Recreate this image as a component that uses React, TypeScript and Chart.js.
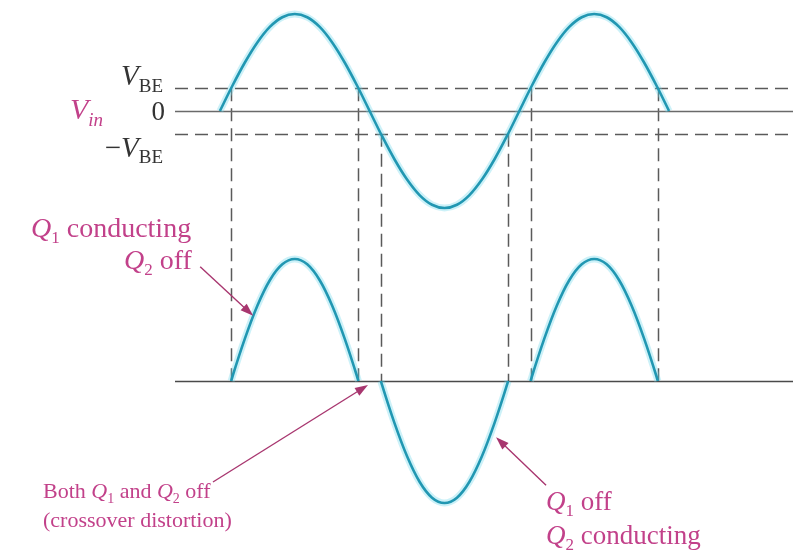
import React, { useEffect, useRef } from "react";
import { Chart, registerables } from "chart.js";

Chart.register(...registerables);

// ---------- data (phase in degrees, voltages in volts) ----------
const vbe = 0.7;

const inputPhase = [
  0, 15, 30, 45, 60, 75, 90, 105, 120, 135, 150, 165, 180, 195, 210, 225, 240, 255, 270,
  285, 300, 315, 330, 345, 360, 375, 390, 405, 420, 435, 450, 465, 480, 495, 510, 525, 540,
];
const inputVolts = [
  0, 0.78, 1.5, 2.12, 2.6, 2.9, 3.0, 2.9, 2.6, 2.12, 1.5, 0.78, 0, -0.78, -1.5, -2.12, -2.6, -2.9, -3.0,
  -2.9, -2.6, -2.12, -1.5, -0.78, 0, 0.78, 1.5, 2.12, 2.6, 2.9, 3.0, 2.9, 2.6, 2.12, 1.5, 0.78, 0,
];

const q1FirstPhase = [13.5, 15, 30, 45, 60, 75, 90, 105, 120, 135, 150, 165, 166.5];
const q1FirstVolts = [0, 0.08, 0.8, 1.42, 1.9, 2.2, 2.3, 2.2, 1.9, 1.42, 0.8, 0.08, 0];

const q2Phase = [193.5, 195, 210, 225, 240, 255, 270, 285, 300, 315, 330, 345, 346.5];
const q2Volts = [0, -0.08, -0.8, -1.42, -1.9, -2.2, -2.3, -2.2, -1.9, -1.42, -0.8, -0.08, 0];

const q1SecondPhase = [373.5, 375, 390, 405, 420, 435, 450, 465, 480, 495, 510, 525, 526.5];
const q1SecondVolts = [0, 0.08, 0.8, 1.42, 1.9, 2.2, 2.3, 2.2, 1.9, 1.42, 0.8, 0.08, 0];

// phases where the input crosses ±VBE, and the level where each guide starts
const crossPhase = [13.5, 166.5, 193.5, 346.5, 373.5, 526.5];
const crossLevel = [0.7, 0.7, -0.7, -0.7, 0.7, 0.7];

// ---------- styling ----------
const FONT = '"Liberation Serif", "Times New Roman", serif';
const MAGENTA = "#c2418a";
const ARROW = "#a8366f";
const WAVE = "#2197b2";
const GLOW = "rgba(110, 215, 235, 0.35)";

type Seg = { t: string; it?: boolean; sub?: boolean };

function drawRich(
  ctx: CanvasRenderingContext2D,
  segs: Seg[],
  x: number,
  y: number,
  size: number,
  color: string,
  align: "left" | "right" = "left",
  subRatio = 0.62
) {
  const subSize = Math.round(size * subRatio);
  const fontFor = (s: Seg) => `${s.it ? "italic " : ""}${s.sub ? subSize : size}px ${FONT}`;
  let w = 0;
  for (const s of segs) {
    ctx.font = fontFor(s);
    w += ctx.measureText(s.t).width;
  }
  let cx = align === "right" ? x - w : x;
  ctx.fillStyle = color;
  ctx.textBaseline = "alphabetic";
  ctx.textAlign = "left";
  for (const s of segs) {
    ctx.font = fontFor(s);
    ctx.fillText(s.t, cx, s.sub ? y + size * 0.22 : y);
    cx += ctx.measureText(s.t).width;
  }
}

function arrow(ctx: CanvasRenderingContext2D, x0: number, y0: number, x1: number, y1: number) {
  const a = Math.atan2(y1 - y0, x1 - x0);
  const len = 13;
  const hw = 4.5;
  ctx.strokeStyle = ARROW;
  ctx.fillStyle = ARROW;
  ctx.lineWidth = 1.4;
  ctx.setLineDash([]);
  ctx.beginPath();
  ctx.moveTo(x0, y0);
  ctx.lineTo(x1 - Math.cos(a) * len * 0.8, y1 - Math.sin(a) * len * 0.8);
  ctx.stroke();
  ctx.beginPath();
  ctx.moveTo(x1, y1);
  ctx.lineTo(x1 - Math.cos(a) * len - Math.sin(a) * hw, y1 - Math.sin(a) * len + Math.cos(a) * hw);
  ctx.lineTo(x1 - Math.cos(a) * len + Math.sin(a) * hw, y1 - Math.sin(a) * len - Math.cos(a) * hw);
  ctx.closePath();
  ctx.fill();
}

const overlay = {
  id: "overlay",
  beforeDatasetsDraw(chart: any) {
    const { ctx, chartArea, scales } = chart;
    const x = scales.x;
    const yT = scales.yTop;
    const yB = scales.yBot;
    ctx.save();
    // dashed ±VBE lines
    ctx.strokeStyle = "#5a5a5a";
    ctx.lineWidth = 1.5;
    ctx.setLineDash([13, 7]);
    for (const lv of [vbe, -vbe]) {
      const py = Math.round(yT.getPixelForValue(lv)) + 0.5;
      ctx.beginPath();
      ctx.moveTo(chartArea.left, py);
      ctx.lineTo(chartArea.right, py);
      ctx.stroke();
    }
    // vertical guides
    crossPhase.forEach((p, i) => {
      const px = Math.round(x.getPixelForValue(p)) + 0.5;
      ctx.beginPath();
      ctx.moveTo(px, yT.getPixelForValue(crossLevel[i]));
      ctx.lineTo(px, yB.getPixelForValue(0));
      ctx.stroke();
    });
    // solid zero lines
    ctx.setLineDash([]);
    ctx.strokeStyle = "#6a6a6a";
    ctx.lineWidth = 1.6;
    let py = Math.round(yT.getPixelForValue(0)) + 0.5;
    ctx.beginPath();
    ctx.moveTo(chartArea.left, py);
    ctx.lineTo(chartArea.right, py);
    ctx.stroke();
    ctx.strokeStyle = "#4a4a4a";
    py = Math.round(yB.getPixelForValue(0)) + 0.5;
    ctx.beginPath();
    ctx.moveTo(chartArea.left, py);
    ctx.lineTo(chartArea.right, py);
    ctx.stroke();
    ctx.restore();
  },
  afterDatasetsDraw(chart: any) {
    const { ctx, chartArea, scales } = chart;
    const x = scales.x;
    const yT = scales.yTop;
    const yB = scales.yBot;
    const L = chartArea.left;
    ctx.save();
    // axis labels of the input plot
    drawRich(ctx, [{ t: "V", it: true }, { t: "BE", sub: true }], L - 12, yT.getPixelForValue(vbe) - 3, 29, "#333", "right", 0.64);
    drawRich(ctx, [{ t: "0" }], L - 10, yT.getPixelForValue(0) + 9, 27, "#333", "right");
    drawRich(ctx, [{ t: "−" }, { t: "V", it: true }, { t: "BE", sub: true }], L - 12, yT.getPixelForValue(-vbe) + 23, 29, "#333", "right", 0.64);
    drawRich(ctx, [{ t: "V", it: true }, { t: "in", it: true, sub: true }], L - 72, yT.getPixelForValue(0) + 8, 30, MAGENTA, "right", 0.64);

    // annotations
    drawRich(ctx, [{ t: "Q", it: true }, { t: "1", sub: true }, { t: " conducting" }], 31, 237, 28, MAGENTA);
    drawRich(ctx, [{ t: "Q", it: true }, { t: "2", sub: true }, { t: " off" }], 124, 269, 28, MAGENTA);
    drawRich(
      ctx,
      [{ t: "Both " }, { t: "Q", it: true }, { t: "1", sub: true }, { t: " and " }, { t: "Q", it: true }, { t: "2", sub: true }, { t: " off" }],
      43, 498, 22, MAGENTA
    );
    drawRich(ctx, [{ t: "(crossover distortion)" }], 43, 527, 22, MAGENTA);
    drawRich(ctx, [{ t: "Q", it: true }, { t: "1", sub: true }, { t: " off" }], 546, 510, 27, MAGENTA);
    drawRich(ctx, [{ t: "Q", it: true }, { t: "2", sub: true }, { t: " conducting" }], 546, 544, 27, MAGENTA);

    // arrows (tips anchored to the output curve)
    let tx = x.getPixelForValue(40);
    let ty = yB.getPixelForValue(1.23);
    arrow(ctx, tx - 53, ty - 49, tx, ty);
    tx = x.getPixelForValue(178);
    ty = yB.getPixelForValue(0) + 4;
    arrow(ctx, tx - 155, ty + 97, tx, ty);
    tx = x.getPixelForValue(332);
    ty = yB.getPixelForValue(-1.06);
    arrow(ctx, tx + 50, ty + 48, tx, ty);
    ctx.restore();
  },
};

function pts(px: number[], py: number[]) {
  return px.map((p, i) => ({ x: p, y: py[i] }));
}

export default function App() {
  const ref = useRef<HTMLCanvasElement>(null);
  useEffect(() => {
    if (!ref.current) return;
    const line = (label: string, data: any[], axis: string, glow: boolean) => ({
      label,
      data,
      yAxisID: axis,
      showLine: true,
      borderColor: glow ? GLOW : WAVE,
      borderWidth: glow ? 7 : 2.6,
      pointRadius: 0,
      cubicInterpolationMode: "monotone" as const,
      fill: false,
      order: glow ? 2 : 1,
    });
    const input = pts(inputPhase, inputVolts);
    const h1 = pts(q1FirstPhase, q1FirstVolts);
    const h2 = pts(q2Phase, q2Volts);
    const h3 = pts(q1SecondPhase, q1SecondVolts);
    const chart = new Chart(ref.current, {
      type: "scatter",
      data: {
        datasets: [
          line("Vin", input, "yTop", false),
          line("Q1 output 1", h1, "yBot", false),
          line("Q2 output", h2, "yBot", false),
          line("Q1 output 2", h3, "yBot", false),
          line("Vin glow", input, "yTop", true),
          line("Q1 glow 1", h1, "yBot", true),
          line("Q2 glow", h2, "yBot", true),
          line("Q1 glow 2", h3, "yBot", true),
        ],
      },
      options: {
        responsive: false,
        animation: false,
        devicePixelRatio: 1,
        layout: { padding: { left: 175, right: 0, top: 0, bottom: 0 } },
        plugins: { legend: { display: false }, tooltip: { enabled: false } },
        events: [],
        scales: {
          x: { type: "linear", min: -54, max: 689, display: false },
          yTop: { type: "linear", position: "left", min: -13.64, max: 3.433, display: false },
          yBot: { type: "linear", position: "right", min: -3.224, max: 7.183, display: false },
        },
      },
      plugins: [overlay],
    });
    return () => chart.destroy();
  }, []);
  return (
    <div style={{ position: "fixed", left: 0, top: 0, width: 793, height: 552, background: "#fff" }}>
      <canvas ref={ref} width={793} height={552} style={{ display: "block" }} />
    </div>
  );
}
